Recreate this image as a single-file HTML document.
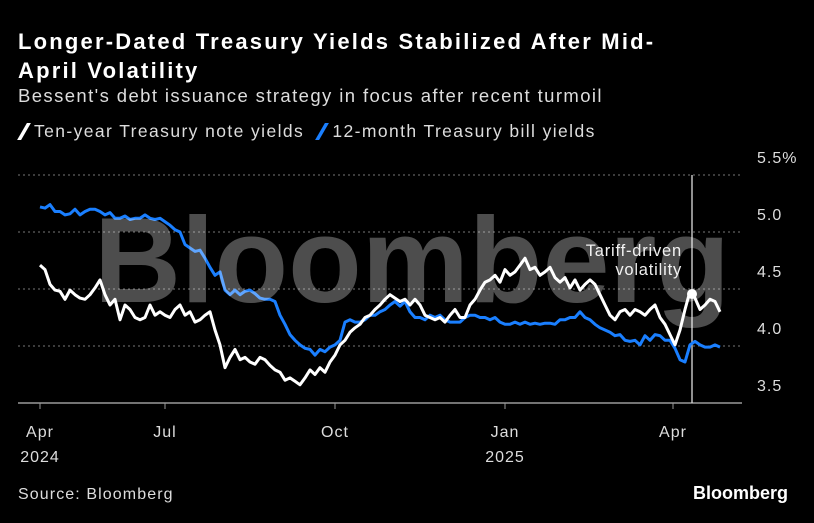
<!DOCTYPE html>
<html><head><meta charset="utf-8"><style>
body{margin:0;background:#000;width:814px;height:523px;overflow:hidden;font-family:"Liberation Sans",sans-serif;color:#fff}
.t{position:absolute;left:18px;white-space:nowrap}
</style></head><body>
<div class="t" style="top:27px;font-size:22px;font-weight:bold;line-height:29px;letter-spacing:2.2px">Longer-Dated Treasury Yields Stabilized After Mid-<br>April Volatility</div>
<div class="t" style="top:85px;font-size:18.5px;color:#ddd;letter-spacing:1.4px">Bessent's debt issuance strategy in focus after recent turmoil</div>
<div class="t" style="top:121px;font-size:17.5px;color:#ddd;letter-spacing:1.4px">
<span><span style="display:inline-block;width:4px;height:17px;background:#fff;transform:skewX(-30deg);vertical-align:-3px;margin:0 8px 0 4px"></span>Ten-year Treasury note yields</span>
<span style="margin-left:6px"><span style="display:inline-block;width:4px;height:17px;background:#1a7fff;transform:skewX(-30deg);vertical-align:-3px;margin:0 8px 0 4px"></span>12-month Treasury bill yields</span></div>
<div class="t" style="top:486px;font-size:16px;color:#ddd;letter-spacing:1.1px">Source: Bloomberg</div>
<div style="position:absolute;right:26px;top:483px;font-size:18px;font-weight:bold">Bloomberg</div>
<svg id="chart" width="814" height="523" style="position:absolute;left:0;top:0"></svg>
<script>
const yTicks=[3.5,4.0,4.5,5.0,5.5];
const yTickLabels=["3.5","4.0","4.5","5.0","5.5%"];
const xTickLabels=[["Apr","2024"],["Jul",""],["Oct",""],["Jan","2025"],["Apr",""]];
const xTickIdx=[0,25,59,93,126.6];
const tenYear=[4.71,4.67,4.54,4.49,4.48,4.41,4.49,4.45,4.42,4.41,4.45,4.51,4.58,4.45,4.36,4.41,4.23,4.36,4.32,4.25,4.23,4.25,4.36,4.27,4.30,4.27,4.25,4.32,4.36,4.27,4.30,4.21,4.23,4.27,4.30,4.14,4.01,3.81,3.90,3.97,3.88,3.90,3.86,3.84,3.90,3.88,3.83,3.79,3.77,3.70,3.72,3.69,3.66,3.72,3.79,3.75,3.81,3.77,3.86,3.92,4.01,4.05,4.12,4.16,4.19,4.25,4.27,4.32,4.36,4.41,4.45,4.42,4.39,4.41,4.36,4.41,4.36,4.27,4.25,4.23,4.25,4.21,4.27,4.32,4.25,4.25,4.36,4.41,4.49,4.56,4.58,4.62,4.56,4.67,4.62,4.65,4.71,4.77,4.67,4.69,4.62,4.65,4.69,4.60,4.56,4.60,4.51,4.58,4.49,4.54,4.58,4.54,4.45,4.36,4.27,4.23,4.30,4.32,4.27,4.32,4.30,4.27,4.32,4.36,4.25,4.19,4.10,4.01,4.14,4.32,4.48,4.42,4.32,4.36,4.41,4.39,4.30];
const twelveMonth=[5.22,5.21,5.24,5.18,5.18,5.15,5.16,5.20,5.15,5.18,5.20,5.20,5.18,5.15,5.17,5.12,5.12,5.14,5.11,5.12,5.12,5.15,5.12,5.11,5.12,5.09,5.06,5.02,5.00,4.89,4.86,4.83,4.84,4.77,4.69,4.62,4.65,4.49,4.45,4.49,4.45,4.48,4.49,4.46,4.42,4.41,4.41,4.39,4.27,4.19,4.10,4.05,4.01,3.98,3.97,3.92,3.97,3.95,3.99,4.01,4.05,4.21,4.23,4.21,4.21,4.23,4.27,4.27,4.30,4.32,4.36,4.39,4.35,4.39,4.30,4.25,4.25,4.23,4.27,4.25,4.27,4.23,4.21,4.21,4.21,4.25,4.27,4.27,4.25,4.25,4.23,4.25,4.21,4.19,4.19,4.21,4.19,4.21,4.19,4.20,4.19,4.20,4.20,4.19,4.23,4.23,4.25,4.25,4.30,4.25,4.23,4.19,4.16,4.14,4.12,4.09,4.10,4.05,4.04,4.05,4.01,4.09,4.05,4.10,4.09,4.05,4.05,3.98,3.88,3.86,4.01,4.04,4.01,3.99,3.99,4.01,3.99];
const eventIdx=130.4;
const NS="http://www.w3.org/2000/svg";
const svg=document.getElementById('chart');
function xs(i){return 40+i*5;}
function ys(v){return 232-(v-5)*114;}
function mk(tag,attrs){const e=document.createElementNS(NS,tag);for(const k in attrs)e.setAttribute(k,attrs[k]);svg.appendChild(e);return e;}
yTicks.forEach((v,i)=>{
  if(i>0){
    const g=mk('line',{x1:18,x2:742,y1:ys(v),y2:ys(v),stroke:'#777','stroke-width':1,'stroke-dasharray':'2,3'});
    
    
  }
  const t=mk('text',{x:757,y:ys(v)-12,fill:'#ddd','font-size':16,'letter-spacing':1,'font-family':'Liberation Sans, sans-serif'});
  t.textContent=yTickLabels[i];
  
  
});
const base=mk('line',{x1:18,x2:742,y1:ys(3.5),y2:ys(3.5),stroke:'#999','stroke-width':1.5});


xTickIdx.forEach((ix,i)=>{
  const x=xs(ix);
  const tk=mk('line',{x1:x,x2:x,y1:403,y2:409,stroke:'#999','stroke-width':1});
  
  
  xTickLabels[i].forEach((s,j)=>{ if(!s)return;
    const t=mk('text',{x:x,y:437+j*25,fill:'#ddd','font-size':16,'letter-spacing':1,'text-anchor':'middle','font-family':'Liberation Sans, sans-serif'});
    t.textContent=s;
    
    
  });
});
const vx=xs(eventIdx);
const vl=mk('line',{x1:vx,x2:vx,y1:175,y2:403,stroke:'#ddd','stroke-width':1.3});


function path(arr,color,name){
  const d=arr.map((v,i)=>(i?'L':'M')+xs(i).toFixed(1)+','+ys(v).toFixed(1)).join('');
  const p=mk('path',{d:d,fill:'none',stroke:color,'stroke-width':3,'stroke-linejoin':'round'});
  
  
}
path(twelveMonth,'#1a7fff','series-12-month-bill');
path(tenYear,'#ffffff','series-ten-year-note');
const i0=Math.floor(eventIdx),f=eventIdx-i0;
const dv=tenYear[i0]*(1-f)+tenYear[Math.min(i0+1,tenYear.length-1)]*f;
const dot=mk('circle',{cx:vx,cy:ys(dv),r:5,fill:'#fff'});


const a1=mk('text',{x:682,y:256,fill:'#eee','font-size':16.5,'letter-spacing':0.8,'text-anchor':'end','font-family':'Liberation Sans, sans-serif'});
a1.textContent='Tariff-driven';


const a2=mk('text',{x:682,y:275,fill:'#eee','font-size':16.5,'letter-spacing':0.8,'text-anchor':'end','font-family':'Liberation Sans, sans-serif'});
a2.textContent='volatility';


const wm=mk('text',{x:412,y:302,fill:'rgba(255,255,255,0.3)','font-size':122,'font-weight':'bold','text-anchor':'middle','textLength':636,'lengthAdjust':'spacingAndGlyphs','font-family':'Liberation Sans, sans-serif'});
wm.textContent='Bloomberg';


</script>
</body></html>
